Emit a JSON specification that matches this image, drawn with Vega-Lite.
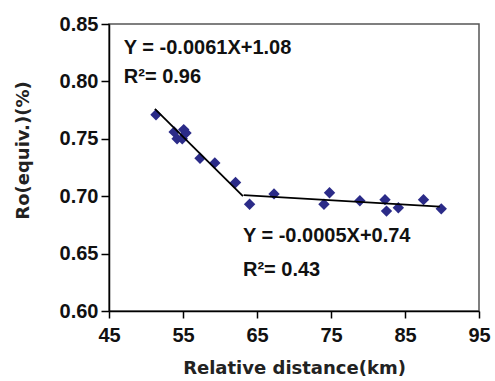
{
  "$schema": "https://vega.github.io/schema/vega-lite/v6.json",
  "width": 370,
  "height": 287,
  "autosize": "none",
  "padding": {"left": 109, "top": 24, "right": 16, "bottom": 70},
  "background": "white",
  "config": {
    "view": {"stroke": "#555555", "strokeWidth": 1.5},
    "font": "Liberation Sans"
  },
  "datasets": {
    "points": [
      {"distance": 51.35, "ro": 0.771},
      {"distance": 53.8, "ro": 0.756},
      {"distance": 54.2, "ro": 0.750},
      {"distance": 54.9, "ro": 0.750},
      {"distance": 55.1, "ro": 0.758},
      {"distance": 55.4, "ro": 0.755},
      {"distance": 57.3, "ro": 0.733},
      {"distance": 59.3, "ro": 0.729},
      {"distance": 62.1, "ro": 0.712},
      {"distance": 64.0, "ro": 0.693},
      {"distance": 67.3, "ro": 0.702},
      {"distance": 74.05, "ro": 0.693},
      {"distance": 74.8, "ro": 0.703},
      {"distance": 78.9, "ro": 0.696},
      {"distance": 82.3, "ro": 0.697},
      {"distance": 82.5, "ro": 0.687},
      {"distance": 84.1, "ro": 0.690},
      {"distance": 87.5, "ro": 0.697},
      {"distance": 89.9, "ro": 0.689}
    ],
    "fits": [
      {"seg": "a", "distance": 51.2, "ro": 0.776},
      {"seg": "a", "distance": 63.1, "ro": 0.700},
      {"seg": "b", "distance": 63.2, "ro": 0.701},
      {"seg": "b", "distance": 89.7, "ro": 0.691}
    ],
    "labels": [
      {"distance": 47.0, "ro": 0.829, "label": "Y = -0.0061X+1.08"},
      {"distance": 47.0, "ro": 0.804, "label": "R²= 0.96"},
      {"distance": 63.1, "ro": 0.665, "label": "Y = -0.0005X+0.74"},
      {"distance": 63.1, "ro": 0.636, "label": "R²= 0.43"}
    ]
  },
  "layer": [
    {
      "data": {"name": "points"},
      "mark": {"type": "point", "shape": "diamond", "filled": true, "size": 130, "color": "#2b2b88", "opacity": 1},
      "encoding": {
        "x": {
          "field": "distance", "type": "quantitative",
          "scale": {"domain": [45, 95], "nice": false, "zero": false},
          "axis": {
            "title": "Relative distance(km)",
            "values": [45, 50, 55, 60, 65, 70, 75, 80, 85, 90, 95],
            "labelExpr": "datum.value % 10 === 5 ? datum.label : ''",
            "labelOverlap": false,
            "labelFlush": false,
            "grid": false,
            "domainColor": "black", "domainWidth": 1.5,
            "tickColor": "black", "tickWidth": 1.5,
            "tickSize": {"condition": {"test": "datum.value % 10 !== 5", "value": 4}, "value": 7},
            "labelFont": "Liberation Sans", "labelFontWeight": "bold", "labelFontSize": 20, "labelColor": "#111111",
            "labelPadding": 7,
            "titleFont": "DejaVu Sans", "titleFontWeight": "bold", "titleFontSize": 18, "titleColor": "#222222",
            "titleY": 57, "titleBaseline": "middle"
          }
        },
        "y": {
          "field": "ro", "type": "quantitative",
          "scale": {"domain": [0.6, 0.85], "nice": false, "zero": false},
          "axis": {
            "title": "Ro(equiv.)(%)",
            "values": [0.6, 0.625, 0.65, 0.675, 0.7, 0.725, 0.75, 0.775, 0.8, 0.825, 0.85],
            "labelExpr": "round(datum.value*1000) % 50 === 0 ? format(datum.value, '.2f') : ''",
            "labelOverlap": false,
            "labelFlush": false,
            "grid": false,
            "domainColor": "black", "domainWidth": 1.5,
            "tickColor": "black", "tickWidth": 1.5,
            "tickSize": {"condition": {"test": "round(datum.value*1000) % 50 !== 0", "value": 4}, "value": 8},
            "labelFont": "Liberation Sans", "labelFontWeight": "bold", "labelFontSize": 20, "labelColor": "#111111",
            "labelPadding": 3,
            "titleFont": "DejaVu Sans", "titleFontWeight": "bold", "titleFontSize": 18, "titleColor": "#222222",
            "titleX": -86, "titleY": 126, "titleAngle": 270, "titleBaseline": "middle", "titleAlign": "center"
          }
        }
      }
    },
    {
      "data": {"name": "fits"},
      "mark": {"type": "line", "color": "black", "strokeWidth": 1.8},
      "encoding": {
        "x": {"field": "distance", "type": "quantitative"},
        "y": {"field": "ro", "type": "quantitative"},
        "detail": {"field": "seg"}
      }
    },
    {
      "data": {"name": "labels"},
      "mark": {"type": "text", "align": "left", "baseline": "middle", "font": "Liberation Sans", "fontWeight": "bold", "fontSize": 20, "color": "#111111"},
      "encoding": {
        "x": {"field": "distance", "type": "quantitative"},
        "y": {"field": "ro", "type": "quantitative"},
        "text": {"field": "label"}
      }
    }
  ]
}
